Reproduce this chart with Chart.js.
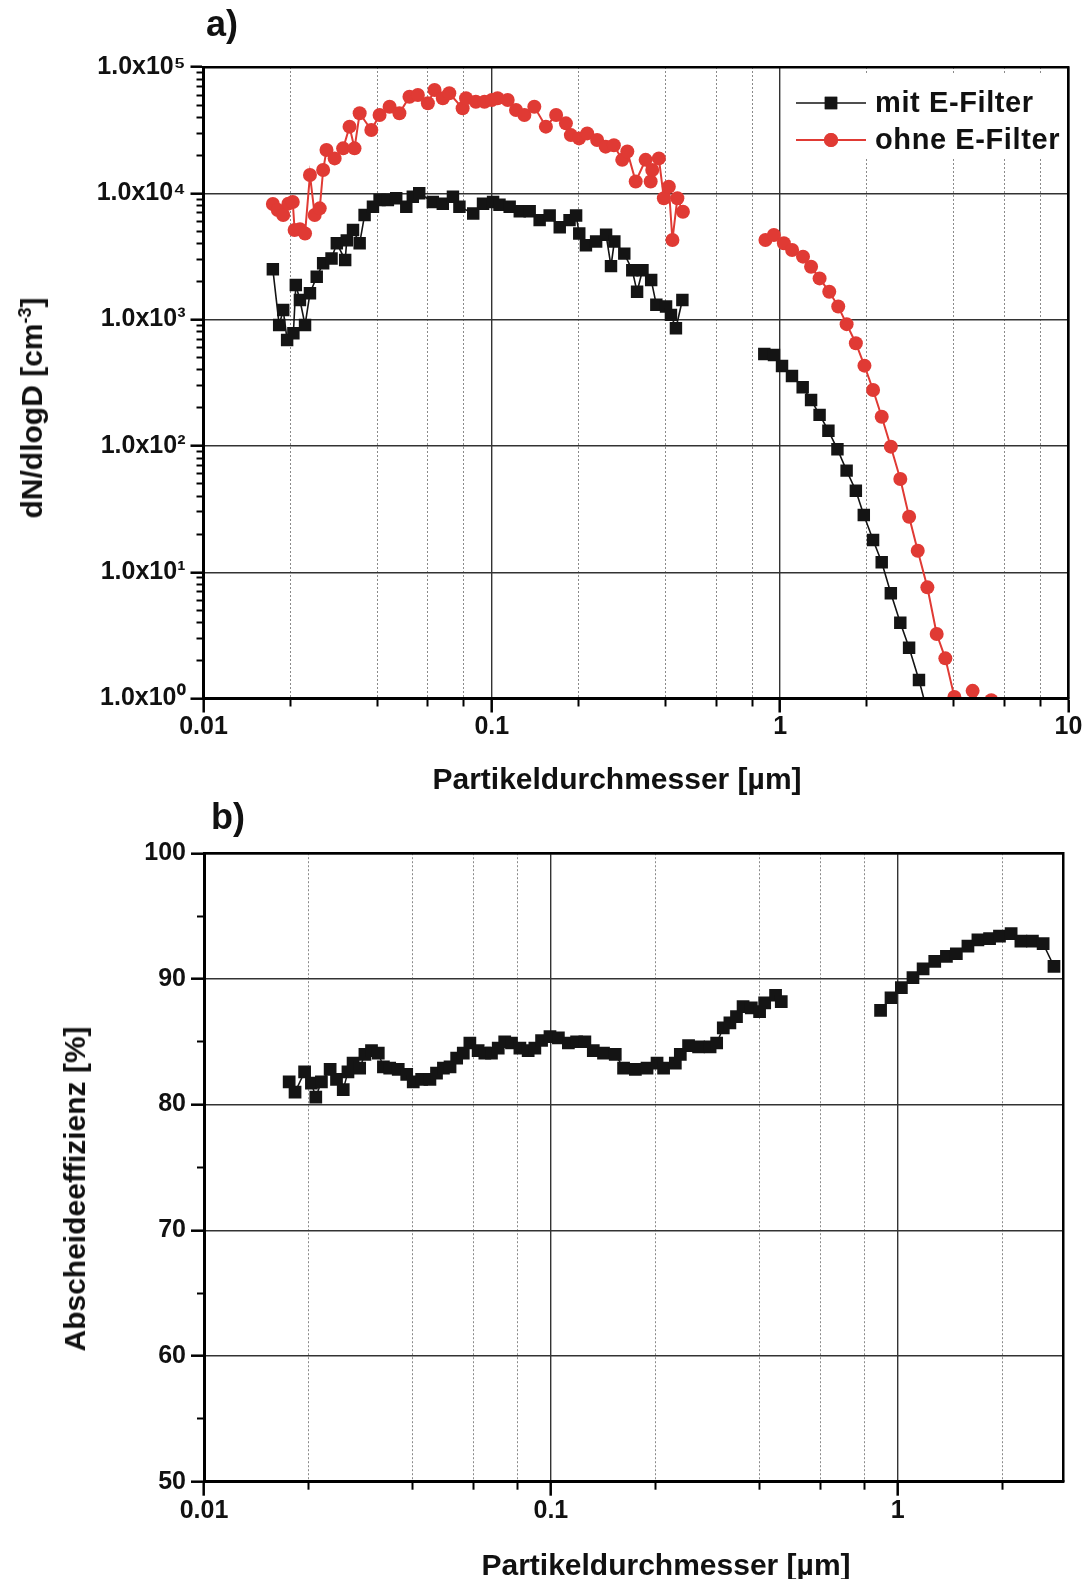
<!DOCTYPE html>
<html lang="de">
<head>
  <meta charset="UTF-8">
  <title>Partikelanzahl und Abscheideeffizienz</title>
  <script src="https://cdn.jsdelivr.net/npm/chart.js@4.4.1/dist/chart.umd.min.js"></script>
  <style>
    body { margin: 0; background: #fff; }
    .page { position: relative; width: 1085px; height: 1579px; overflow: hidden; background: #fff; }
    canvas { position: absolute; left: 0; }
    .lbl {
      position: absolute; white-space: nowrap; line-height: 1;
      font-family: Arial, 'Liberation Sans', sans-serif; font-weight: bold; color: #111;
    }
    .xtitle { font-size: 30px; transform: translateX(-50%); }
    .ytitle { font-size: 30px; transform: translate(-50%, -50%) rotate(-90deg); }
    .ytitle sup { font-size: 18px; vertical-align: 0.6em; line-height: 0; }
    .panel { font-size: 36px; }
  </style>
</head>
<body>
<div class="page">
  <canvas id="chartA" width="1085" height="800" style="top:0;width:1085px;height:800px"></canvas>
  <canvas id="chartB" width="1085" height="779" style="top:800px;width:1085px;height:779px"></canvas>

  <div class="lbl panel" style="left:206px;top:6px">a)</div>
  <div class="lbl panel" style="left:211px;top:799px">b)</div>
  <div class="lbl xtitle" style="left:617px;top:764px">Partikeldurchmesser [µm]</div>
  <div class="lbl xtitle" style="left:666px;top:1550px">Partikeldurchmesser [µm]</div>
  <div class="lbl ytitle" style="left:32px;top:408px">dN/dlogD [cm<sup>-3</sup>]</div>
  <div class="lbl ytitle" style="left:75px;top:1189px">Abscheideeffizienz [%]</div>
</div>

<script>
  // a) Anzahlverteilung mit E-Filter (null = Lücke zwischen den Messgeräten)
  const mitD = [0.0174, 0.0183, 0.0189, 0.0195, 0.0205, 0.0209, 0.0216, 0.0225, 0.0234, 0.0247,
                0.026, 0.0278, 0.029, 0.031, 0.0314, 0.033, 0.0348, 0.0362, 0.0387, 0.0408,
                0.0436, 0.0466, 0.0505, 0.0532, 0.056, 0.0624, 0.0676, 0.0733, 0.0772, 0.0862,
                0.0932, 0.101, 0.1063, 0.1153, 0.125, 0.1353, 0.1465, 0.1587, 0.172, 0.186,
                0.196, 0.201, 0.212, 0.23, 0.249, 0.259, 0.266, 0.288, 0.307, 0.319,
                0.333, 0.357, 0.372, 0.402, 0.418, 0.435, 0.458,
                0.65,
                0.881, 0.952, 1.015, 1.099, 1.197, 1.28, 1.37, 1.47, 1.58, 1.70,
                1.83, 1.95, 2.10, 2.25, 2.42, 2.61, 2.80, 3.03, 3.27];
  const mitN = [2500, 906, 1190, 690, 780, 1880, 1430, 906, 1615, 2185,
                2790, 3050, 4020, 2965, 4240, 5120, 4020, 6730, 7830, 8850,
                8850, 9130, 7830, 9400, 10000, 8530, 8280, 9400, 7830, 6930,
                8280, 8530, 8120, 7830, 7200, 7200, 6130, 6660, 5390, 6130,
                6660, 4800, 3880, 4150, 4690, 2650, 4150, 3330, 2460, 1660,
                2460, 2060, 1310, 1270, 1090, 855, 1430,
                null,
                534, 525, 429, 358, 291, 231, 176, 132, 94, 63.7,
                44.2, 28.4, 18.0, 12.0, 6.81, 3.98, 2.52, 1.40, 0.72];

  // a) Anzahlverteilung ohne E-Filter
  const ohneD = [0.0174, 0.0181, 0.0189, 0.0197, 0.0204, 0.0207, 0.0216, 0.0225, 0.0234, 0.0243,
                 0.0253, 0.026, 0.0267, 0.0285, 0.0305, 0.0321, 0.0334, 0.0348, 0.0382, 0.0408,
                 0.0442, 0.0478, 0.0518, 0.0554, 0.060, 0.0633, 0.0676, 0.0712, 0.0792, 0.0814,
                 0.088, 0.0943, 0.100, 0.1047, 0.1135, 0.1213, 0.1297, 0.1404, 0.154, 0.1671,
                 0.1807, 0.188, 0.2007, 0.2142, 0.2318, 0.2482, 0.265, 0.2833, 0.295, 0.3155,
                 0.3415, 0.3555, 0.360, 0.3796, 0.395, 0.411, 0.423, 0.440, 0.460,
                 0.65,
                 0.889, 0.951, 1.03, 1.10, 1.20, 1.28, 1.37, 1.48, 1.59, 1.70,
                 1.83, 1.96, 2.10, 2.25, 2.42, 2.61, 2.80, 3.00, 3.24, 3.49,
                 3.74, 4.02, 4.33, 4.65, 5.00, 5.40];
  const ohneN = [8230, 7380, 6740, 8280, 8530, 5120, 5200, 4800, 13960, 6740,
                 7600, 15290, 22000, 18900, 22700, 33700, 22700, 43000, 31700, 41700,
                 48500, 43000, 58200, 60000, 51600, 65800, 56500, 62000, 47100, 56500,
                 53100, 53100, 54800, 56500, 54800, 45600, 41700, 48500, 33700, 41700,
                 35800, 28900, 27200, 29800, 26400, 23400, 24000, 18400, 21400, 12400,
                 18400, 12400, 15300, 18900, 9130, 11270, 4270, 9130, 7150,
                 null,
                 4270, 4680, 4020, 3560, 3150, 2620, 2120, 1660, 1270, 920,
                 650, 432, 277, 170, 98.6, 54.7, 27.5, 14.8, 7.59, 3.24,
                 2.08, 1.03, 0.75, 1.15, 0.85, 0.97];

  // b) Abscheideeffizienz
  const effD = [0.0176, 0.0183, 0.0195, 0.0204, 0.0210, 0.0218, 0.0231, 0.0241, 0.0252, 0.0260,
                0.0269, 0.0281, 0.0291, 0.0304, 0.0318, 0.0329, 0.0343, 0.0363, 0.0384, 0.0401,
                0.0424, 0.0448, 0.0468, 0.0490, 0.0512, 0.0535, 0.0559, 0.0584, 0.0617, 0.0645,
                0.0674, 0.0705, 0.0736, 0.0770, 0.0814, 0.0860, 0.0899, 0.0940, 0.0994, 0.1051,
                0.1123, 0.1186, 0.1253, 0.1325, 0.1418, 0.1533, 0.1620, 0.1752, 0.1893, 0.2023,
                0.2113, 0.2284, 0.2361, 0.2494, 0.2665, 0.2877, 0.3005, 0.3140, 0.3281, 0.3428,
                0.3581, 0.3782, 0.3996, 0.4133, 0.4443, 0.4614,
                0.65,
                0.892, 0.956, 1.024, 1.106, 1.183, 1.278, 1.381, 1.475, 1.593, 1.702,
                1.839, 1.964, 2.122, 2.264, 2.444, 2.624, 2.82];
  const effE = [81.8, 81.0, 82.6, 81.7, 80.6, 81.8, 82.8, 82.0, 81.2, 82.6,
                83.3, 82.9, 84.0, 84.3, 84.1, 83.0, 82.9, 82.8, 82.4, 81.8,
                82.0, 82.0, 82.5, 82.9, 83.0, 83.7, 84.1, 84.9, 84.3, 84.1,
                84.1, 84.5, 85.0, 84.9, 84.5, 84.3, 84.5, 85.1, 85.4, 85.3,
                84.9, 85.0, 85.0, 84.3, 84.1, 84.0, 82.9, 82.8, 82.9, 83.3,
                82.9, 83.3, 84.0, 84.7, 84.6, 84.6, 84.9, 86.1, 86.5, 87.0,
                87.8, 87.7, 87.4, 88.1, 88.7, 88.2,
                null,
                87.5, 88.5, 89.3, 90.1, 90.8, 91.4, 91.8, 92.0, 92.6, 93.1,
                93.2, 93.4, 93.6, 93.0, 93.0, 92.8, 91.0];

  // Achsenteilungen
  const xMajorA = [0.01, 0.1, 1, 10];
  const xMinorA = [0.02, 0.04, 0.06, 0.08, 0.2, 0.4, 0.6, 0.8, 2, 4, 6, 8];
  const yMajorA = [1, 10, 100, 1000, 10000, 100000];
  const yMinorA = [2, 3, 4, 5, 6, 7, 8, 9, 20, 30, 40, 50, 60, 70, 80, 90,
                   200, 300, 400, 500, 600, 700, 800, 900, 2000, 3000, 4000, 5000, 6000, 7000, 8000, 9000,
                   20000, 30000, 40000, 50000, 60000, 70000, 80000, 90000];
  const xMajorB = [0.01, 0.1, 1];
  const xMinorB = [0.02, 0.04, 0.06, 0.08, 0.2, 0.4, 0.6, 0.8, 2];
  const yMajorB = [50, 60, 70, 80, 90, 100];
  const yMinorB = [55, 65, 75, 85, 95];

  const legendLabels = ['mit E-Filter', 'ohne E-Filter'];
  const farbeMit = '#141414';
  const farbeOhne = '#e03a34';

  const fontTick = { family: "Arial, 'Liberation Sans', sans-serif", size: 25, weight: 'bold' };
  const hoch = { '0': '⁰', '1': '¹', '2': '²', '3': '³', '4': '⁴', '5': '⁵' };

  function pts(xs, ys) {
    return xs.map((x, i) => ({ x: x, y: ys[i] }));
  }
  function setTicks(list) {
    return function (scale) { scale.ticks = list.map(v => ({ value: v })); };
  }
  function fixW(w) { return function (scale) { scale.width = w; }; }
  function fixH(h) { return function (scale) { scale.height = h; }; }

  // Rahmen oben/rechts als leere Achsen
  function rahmen(pos) {
    const horiz = pos === 'top';
    return {
      type: 'linear', position: pos, min: 0, max: 1,
      afterFit: horiz ? fixH(0) : fixW(0),
      grid: { drawOnChartArea: false, drawTicks: false },
      border: { color: '#000', width: 2.5, z: 1 },
      ticks: { display: false }
    };
  }

  // Legende im Diagramm a)
  const innerLegend = {
    id: 'innerLegend',
    beforeDatasetsDraw(chart) {
      const ctx = chart.ctx;
      const a = chart.chartArea;
      ctx.save();
      ctx.fillStyle = '#fff';
      ctx.fillRect(a.right - 283, a.top + 6, 282, 84);
      const rows = [
        { y: 103, color: farbeMit, style: 'rect', r: 8.8, lw: 1.6 },
        { y: 140, color: farbeOhne, style: 'circle', r: 7, lw: 2 }
      ];
      rows.forEach((row, i) => {
        ctx.strokeStyle = row.color;
        ctx.lineWidth = row.lw;
        ctx.beginPath();
        ctx.moveTo(796, row.y);
        ctx.lineTo(866, row.y);
        ctx.stroke();
        ctx.fillStyle = row.color;
        Chart.helpers.drawPoint(ctx, { pointStyle: row.style, radius: row.r, borderWidth: 0 }, 831, row.y);
        ctx.fill();
        ctx.fillStyle = '#111';
        ctx.font = "bold 29px Arial, 'Liberation Sans', sans-serif";
        ctx.letterSpacing = '0.6px';
        ctx.textBaseline = 'alphabetic';
        ctx.fillText(legendLabels[i], 875, row.y + 9);
      });
      ctx.restore();
    }
  };

  // Diagramm a)
  new Chart(document.getElementById('chartA'), {
    type: 'line',
    data: {
      datasets: [{
        label: legendLabels[0],
        data: pts(mitD, mitN),
        xAxisID: 'x', yAxisID: 'y',
        borderColor: farbeMit, borderWidth: 1.6,
        pointStyle: 'rect', pointRadius: 8.8, pointBorderWidth: 0,
        pointBackgroundColor: farbeMit,
        clip: 0
      }, {
        label: legendLabels[1],
        data: pts(ohneD, ohneN),
        xAxisID: 'x', yAxisID: 'y',
        borderColor: farbeOhne, borderWidth: 2,
        pointStyle: 'circle', pointRadius: 7, pointBorderWidth: 0,
        pointBackgroundColor: farbeOhne,
        clip: 0
      }]
    },
    options: {
      responsive: false,
      animation: false,
      events: [],
      layout: { padding: { top: 67, right: 16.5, bottom: 0, left: 0 } },
      plugins: { legend: { display: false }, tooltip: { enabled: false } },
      scales: {
        x: {
          type: 'logarithmic', position: 'bottom', weight: 1, min: 0.01, max: 10,
          afterBuildTicks: setTicks(xMajorA),
          afterFit: fixH(101.5),
          grid: { color: '#333', lineWidth: 1.4, tickLength: 14, tickWidth: 2.5, tickColor: '#000' },
          border: { color: '#000', width: 3, z: 1 },
          ticks: { autoSkip: false, maxRotation: 0, padding: 0, color: '#111', font: fontTick,
                   callback: v => String(v) }
        },
        xm: {
          type: 'logarithmic', position: 'bottom', weight: 0, min: 0.01, max: 10,
          afterBuildTicks: setTicks(xMinorA),
          afterFit: fixH(0),
          grid: { color: '#8a8a8a', lineWidth: 1, tickLength: 8, tickWidth: 2, tickColor: '#000' },
          border: { display: false, dash: [2, 2] },
          ticks: { display: false }
        },
        y: {
          type: 'logarithmic', position: 'left', weight: 1, min: 1, max: 100000,
          afterBuildTicks: setTicks(yMajorA),
          afterFit: fixW(203.5),
          grid: { color: '#333', lineWidth: 1.4, tickLength: 13, tickWidth: 2.5, tickColor: '#000' },
          border: { color: '#000', width: 3, z: 1 },
          ticks: { autoSkip: false, padding: 5, color: '#111', font: fontTick,
                   callback: v => '1.0x10' + hoch[Math.round(Math.log10(v))] }
        },
        ym: {
          type: 'logarithmic', position: 'left', weight: 0, min: 1, max: 100000,
          afterBuildTicks: setTicks(yMinorA),
          afterFit: fixW(0),
          grid: { drawOnChartArea: false, tickLength: 7, tickWidth: 2, tickColor: '#000' },
          border: { display: false },
          ticks: { display: false }
        },
        xt: rahmen('top'),
        yr: rahmen('right')
      }
    },
    plugins: [innerLegend]
  });

  // Diagramm b)
  new Chart(document.getElementById('chartB'), {
    type: 'line',
    data: {
      datasets: [{
        label: 'Abscheideeffizienz',
        data: pts(effD, effE),
        xAxisID: 'x', yAxisID: 'y',
        borderColor: farbeMit, borderWidth: 1.5,
        pointStyle: 'rect', pointRadius: 9, pointBorderWidth: 0,
        pointBackgroundColor: farbeMit,
        clip: 0
      }]
    },
    options: {
      responsive: false,
      animation: false,
      events: [],
      layout: { padding: { top: 53.2, right: 21.7, bottom: 0, left: 0 } },
      plugins: { legend: { display: false }, tooltip: { enabled: false } },
      scales: {
        x: {
          type: 'logarithmic', position: 'bottom', weight: 1, min: 0.01, max: 3,
          afterBuildTicks: setTicks(xMajorB),
          afterFit: fixH(97.3),
          grid: { color: '#333', lineWidth: 1.4, tickLength: 14, tickWidth: 2.5, tickColor: '#000' },
          border: { color: '#000', width: 3, z: 1 },
          ticks: { autoSkip: false, maxRotation: 0, padding: 0, color: '#111', font: fontTick,
                   callback: v => String(v) }
        },
        xm: {
          type: 'logarithmic', position: 'bottom', weight: 0, min: 0.01, max: 3,
          afterBuildTicks: setTicks(xMinorB),
          afterFit: fixH(0),
          grid: { color: '#8a8a8a', lineWidth: 1, tickLength: 8, tickWidth: 2, tickColor: '#000' },
          border: { display: false, dash: [2, 2] },
          ticks: { display: false }
        },
        y: {
          type: 'linear', position: 'left', weight: 1, min: 50, max: 100,
          afterBuildTicks: setTicks(yMajorB),
          afterFit: fixW(204),
          grid: { color: '#333', lineWidth: 1.4, tickLength: 13, tickWidth: 2.5, tickColor: '#000' },
          border: { color: '#000', width: 3, z: 1 },
          ticks: { autoSkip: false, padding: 5, color: '#111', font: fontTick }
        },
        ym: {
          type: 'linear', position: 'left', weight: 0, min: 50, max: 100,
          afterBuildTicks: setTicks(yMinorB),
          afterFit: fixW(0),
          grid: { drawOnChartArea: false, tickLength: 7, tickWidth: 2, tickColor: '#000' },
          border: { display: false },
          ticks: { display: false }
        },
        xt: rahmen('top'),
        yr: rahmen('right')
      }
    }
  });
</script>
</body>
</html>
